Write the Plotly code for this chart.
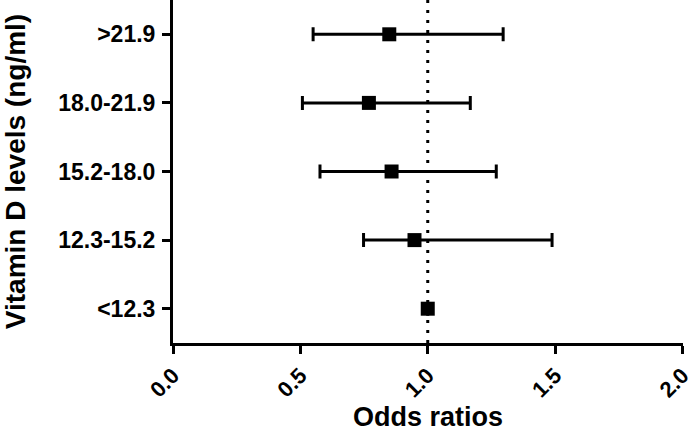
import plotly.graph_objects as go

# vitamin D categories, bottom to top
levels = ["<12.3", "12.3-15.2", "15.2-18.0", "18.0-21.9", ">21.9"]
odds_ratio = [1.0, 0.948, 0.858, 0.769, 0.849]
ci_low = [1.0, 0.748, 0.577, 0.508, 0.550]
ci_high = [1.0, 1.488, 1.269, 1.167, 1.296]

x_ticks = [0.0, 0.5, 1.0, 1.5, 2.0]

ypos = list(range(len(levels)))
err_plus = [h - o for h, o in zip(ci_high, odds_ratio)]
err_minus = [o - l for o, l in zip(odds_ratio, ci_low)]

font_family = "Liberation Sans, Arial, sans-serif"

fig = go.Figure()

# reference line at OR = 1
fig.add_shape(type="line", x0=1, x1=1, y0=-0.5, y1=4.5, xref="x", yref="y",
              line=dict(color="black", width=3, dash="3px,7px"), layer="below")

fig.add_trace(go.Scatter(
    x=odds_ratio, y=ypos, mode="markers",
    marker=dict(symbol="square", size=14, color="black"),
    error_x=dict(type="data", symmetric=False, array=err_plus, arrayminus=err_minus,
                 color="black", thickness=3, width=7),
    showlegend=False,
))

fig.update_layout(
    width=693, height=434,
    margin=dict(l=173, r=10, t=0, b=91),
    plot_bgcolor="white", paper_bgcolor="white",
    font=dict(family=font_family, color="black"),
)
fig.update_xaxes(
    range=[0, 2.002], tickvals=x_ticks, ticktext=[f"{v:.1f}" for v in x_ticks],
    tickangle=-45, tickfont=dict(size=22, family=font_family, weight="bold"),
    ticklabeloverflow="allow",
    showline=True, linecolor="black", linewidth=3,
    ticks="outside", ticklen=8, tickwidth=3, tickcolor="black",
    showgrid=False, zeroline=False, automargin=False,
    title=dict(text="<b>Odds ratios</b>", font=dict(size=27), standoff=2),
)
fig.update_yaxes(
    range=[-0.5, 4.5], tickvals=ypos, ticktext=levels,
    tickfont=dict(size=23, family=font_family, weight="bold"),
    ticklabelstandoff=2,
    showline=True, linecolor="black", linewidth=3,
    ticks="outside", ticklen=8, tickwidth=3, tickcolor="black",
    showgrid=False, zeroline=False, automargin=False,
    title=dict(text="<b>Vitamin D levels (ng/ml)</b>", font=dict(size=28), standoff=26),
)

fig.write_html("out.html", config={"displayModeBar": False},
               post_script="document.body.style.margin='0';")
